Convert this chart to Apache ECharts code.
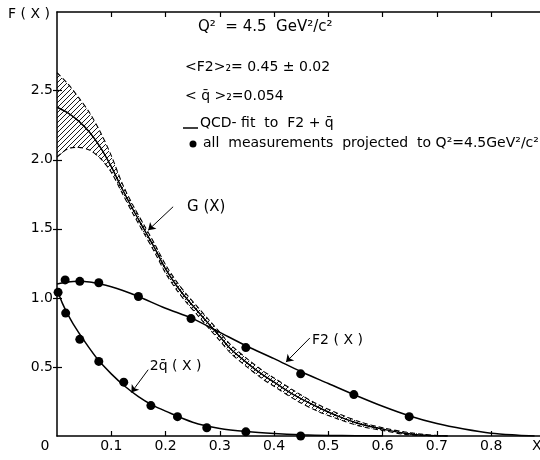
<!DOCTYPE html>
<html><head><meta charset="utf-8">
<script src="https://cdn.jsdelivr.net/npm/echarts@6/dist/echarts.min.js"></script>
<style>html,body{margin:0;padding:0;background:#fff}#c{width:540px;height:460px}</style>
</head><body><div id="c"></div>
<script>
// ---- tick values ----
const xTicks = [0.1, 0.2, 0.3, 0.4, 0.5, 0.6, 0.7, 0.8];
const yTicks = [0.5, 1.0, 1.5, 2.0, 2.5];

// ---- QCD fit curves ----
const f2FitX = [0, 0.02, 0.04, 0.06, 0.08, 0.10, 0.12, 0.15, 0.20, 0.25, 0.30, 0.35, 0.40, 0.45, 0.50, 0.55, 0.60, 0.65, 0.70, 0.75, 0.80, 0.85, 0.88];
const f2FitY = [1.10, 1.115, 1.12, 1.115, 1.10, 1.08, 1.055, 1.01, 0.925, 0.85, 0.75, 0.65, 0.56, 0.465, 0.38, 0.295, 0.215, 0.145, 0.09, 0.05, 0.02, 0.006, 0];

const qFitX = [0, 0.01, 0.02, 0.03, 0.05, 0.075, 0.10, 0.125, 0.15, 0.175, 0.20, 0.25, 0.30, 0.35, 0.40, 0.45, 0.50, 0.55, 0.60];
const qFitY = [1.06, 0.96, 0.88, 0.81, 0.69, 0.555, 0.45, 0.36, 0.285, 0.225, 0.18, 0.10, 0.055, 0.032, 0.018, 0.009, 0.004, 0.002, 0];

const gX   = [0, 0.02, 0.04, 0.06, 0.08, 0.10, 0.12, 0.14, 0.16, 0.18, 0.20, 0.22, 0.24, 0.26, 0.28, 0.30, 0.32, 0.35, 0.38, 0.40, 0.44, 0.48, 0.52, 0.56, 0.60, 0.64, 0.68, 0.72];
const gMid = [2.38, 2.34, 2.28, 2.20, 2.09, 1.95, 1.79, 1.64, 1.50, 1.36, 1.21, 1.09, 0.99, 0.90, 0.81, 0.72, 0.63, 0.53, 0.44, 0.39, 0.29, 0.21, 0.14, 0.085, 0.05, 0.02, 0.005, 0];
const gUp  = [2.63, 2.55, 2.45, 2.34, 2.20, 2.03, 1.83, 1.67, 1.53, 1.39, 1.24, 1.12, 1.02, 0.93, 0.84, 0.75, 0.66, 0.56, 0.47, 0.42, 0.32, 0.23, 0.16, 0.10, 0.06, 0.03, 0.01, 0];
const gLo  = [2.02, 2.08, 2.09, 2.07, 2.01, 1.91, 1.76, 1.61, 1.47, 1.33, 1.18, 1.06, 0.96, 0.87, 0.78, 0.69, 0.60, 0.50, 0.41, 0.36, 0.26, 0.18, 0.12, 0.07, 0.04, 0.012, 0.002, 0];

// ---- measurements ----
const f2PtsX = [0.015, 0.042, 0.077, 0.150, 0.247, 0.348, 0.449, 0.547, 0.649];
const f2PtsY = [1.13, 1.12, 1.11, 1.01, 0.85, 0.64, 0.45, 0.30, 0.14];
const qPtsX = [0.002, 0.016, 0.042, 0.077, 0.123, 0.173, 0.222, 0.276, 0.348, 0.449];
const qPtsY = [1.04, 0.89, 0.70, 0.54, 0.39, 0.22, 0.14, 0.06, 0.03, 0.0];

function pairs(xs, ys) { return xs.map((x, i) => [x, ys[i]]); }

const hatch = document.createElement('canvas');
hatch.width = 5; hatch.height = 5;
const hc = hatch.getContext('2d');
hc.strokeStyle = '#000'; hc.lineWidth = 0.9;
hc.beginPath();
hc.moveTo(-1, 6); hc.lineTo(6, -1);
hc.moveTo(-1, 1); hc.lineTo(1, -1);
hc.moveTo(4, 6); hc.lineTo(6, 4);
hc.stroke();

const FONT = 'DejaVu Sans';
const axisCommon = {
  axisLine: { show: true, onZero: false, lineStyle: { color: '#000', width: 1.5 } },
  splitLine: { show: false }
};

const chart = echarts.init(document.getElementById('c'), null, { renderer: 'canvas' });
chart.setOption({
  animation: false,
  backgroundColor: '#fff',
  grid: { left: 57, right: 0, top: 12, bottom: 24, containLabel: false },
  xAxis: [
    Object.assign({}, axisCommon, {
      type: 'value', min: 0, max: 0.89, interval: 0.1, position: 'bottom',
      axisTick: { show: true, inside: true, length: 5, customValues: xTicks, lineStyle: { color: '#000', width: 1.2 } },
      axisLabel: { show: true, customValues: xTicks, color: '#000', fontFamily: FONT, fontSize: 14, margin: 3,
        formatter: v => (v > 0.05 && v < 0.85) ? v.toFixed(1) : '' }
    }),
    Object.assign({}, axisCommon, {
      type: 'value', min: 0, max: 0.89, interval: 0.1, position: 'top',
      axisTick: { show: true, inside: true, length: 5, customValues: xTicks, lineStyle: { color: '#000', width: 1.2 } },
      axisLabel: { show: false }
    })
  ],
  yAxis: [
    Object.assign({}, axisCommon, {
      type: 'value', min: 0, max: 3.07, interval: 0.5, position: 'left',
      axisTick: { show: true, inside: true, length: 5, customValues: yTicks, lineStyle: { color: '#000', width: 1.2 } },
      axisLabel: { show: true, customValues: yTicks, color: '#000', fontFamily: FONT, fontSize: 14, margin: 4,
        formatter: v => (v > 0.2 && v < 2.8) ? v.toFixed(1) : '' }
    }),
    Object.assign({}, axisCommon, {
      type: 'value', min: 0, max: 3.07, interval: 0.5, position: 'right',
      axisLine: { show: false },
      axisTick: { show: true, inside: true, length: 4, customValues: yTicks, lineStyle: { color: '#000', width: 1.2 } },
      axisLabel: { show: false }
    })
  ],
  series: [
    {
      type: 'custom', name: 'band', data: [[0, 0]], z: 1, silent: true,
      renderItem: function (params, api) {
        if (params.dataIndex !== 0) return;
        const pts = [];
        for (let i = 0; i < gX.length; i++) pts.push(api.coord([gX[i], gUp[i]]));
        for (let i = gX.length - 1; i >= 0; i--) pts.push(api.coord([gX[i], gLo[i]]));
        return { type: 'polygon', shape: { points: pts }, style: { fill: { image: hatch, repeat: 'repeat' }, stroke: null } };
      }
    },
    { type: 'line', name: 'gUp', data: pairs(gX, gUp), showSymbol: false, smooth: 0.3, z: 2,
      lineStyle: { color: '#000', width: 1.1, type: [5, 3] } },
    { type: 'line', name: 'gLo', data: pairs(gX, gLo), showSymbol: false, smooth: 0.3, z: 2,
      lineStyle: { color: '#000', width: 1.1, type: [5, 3] } },
    { type: 'line', name: 'G', data: pairs(gX, gMid), showSymbol: false, smooth: 0.3, z: 3,
      lineStyle: { color: '#000', width: 1.5 },
      markLine: { silent: true, symbol: ['none', 'arrow'], symbolSize: 7, label: { show: false },
        lineStyle: { color: '#000', width: 1, type: 'solid' },
        data: [[{ coord: [0.214, 1.66] }, { coord: [0.168, 1.49] }]] },
      markPoint: { silent: true, symbol: 'circle', symbolSize: 0,
        data: [{ coord: [0.2396, 1.659], label: { show: true, position: 'inside', align: 'left', verticalAlign: 'middle', formatter: 'G (X)', color: '#000', fontFamily: FONT, fontSize: 15 } }] } },
    { type: 'line', name: 'F2', data: pairs(f2FitX, f2FitY), showSymbol: false, smooth: 0.3, z: 3,
      lineStyle: { color: '#000', width: 1.5 },
      markLine: { silent: true, symbol: ['none', 'arrow'], symbolSize: 7, label: { show: false },
        lineStyle: { color: '#000', width: 1, type: 'solid' },
        data: [[{ coord: [0.466, 0.71] }, { coord: [0.422, 0.535] }]] },
      markPoint: { silent: true, symbol: 'circle', symbolSize: 0,
        data: [{ coord: [0.470, 0.696], label: { show: true, position: 'inside', align: 'left', verticalAlign: 'middle', formatter: 'F2 ( X )', color: '#000', fontFamily: FONT, fontSize: 14 } }] } },
    { type: 'line', name: 'q', data: pairs(qFitX, qFitY), showSymbol: false, smooth: 0.3, z: 3,
      lineStyle: { color: '#000', width: 1.5 },
      markLine: { silent: true, symbol: ['none', 'arrow'], symbolSize: 7, label: { show: false },
        lineStyle: { color: '#000', width: 1, type: 'solid' },
        data: [[{ coord: [0.168, 0.48] }, { coord: [0.137, 0.315] }]] },
      markPoint: { silent: true, symbol: 'circle', symbolSize: 0,
        data: [{ coord: [0.171, 0.507], label: { show: true, position: 'inside', align: 'left', verticalAlign: 'middle', formatter: '2q\u0304 ( X )', color: '#000', fontFamily: FONT, fontSize: 14 } }] } },
    { type: 'scatter', name: 'F2 pts', data: pairs(f2PtsX, f2PtsY), symbol: 'circle', symbolSize: 9, clip: false, z: 5,
      itemStyle: { color: '#000', opacity: 1 } },
    { type: 'scatter', name: 'q pts', data: pairs(qPtsX, qPtsY), symbol: 'circle', symbolSize: 9, clip: false, z: 5,
      itemStyle: { color: '#000', opacity: 1 } }
  ],
  graphic: [
    { type: 'text', x: 8, y: 14, style: { text: 'F ( X )', font: '14px "DejaVu Sans"', fill: '#000', verticalAlign: 'middle' } },
    { type: 'text', x: 45, y: 446, style: { text: '0', font: '14px "DejaVu Sans"', fill: '#000', align: 'center', verticalAlign: 'middle' } },
    { type: 'text', x: 532, y: 446, style: { text: 'X', font: '14px "DejaVu Sans"', fill: '#000', verticalAlign: 'middle' } },
    { type: 'text', x: 198, y: 27, style: { text: 'Q²  = 4.5  GeV²/c²', font: '15px "DejaVu Sans"', fill: '#000', verticalAlign: 'middle' } },
    { type: 'text', x: 185, y: 67, style: { text: '<F2>₂= 0.45 ± 0.02', font: '14px "DejaVu Sans"', fill: '#000', verticalAlign: 'middle' } },
    { type: 'text', x: 185, y: 96, style: { text: '< q\u0304 >₂=0.054', font: '14px "DejaVu Sans"', fill: '#000', verticalAlign: 'middle' } },
    { type: 'line', shape: { x1: 183, y1: 128, x2: 198, y2: 128 }, style: { stroke: '#000', lineWidth: 1.5 } },
    { type: 'text', x: 200, y: 123, style: { text: 'QCD- fit  to  F2 + q\u0304', font: '14px "DejaVu Sans"', fill: '#000', verticalAlign: 'middle' } },
    { type: 'circle', shape: { cx: 193, cy: 144, r: 3.5 }, style: { fill: '#000' } },
    { type: 'text', x: 203, y: 143, style: { text: 'all  measurements  projected  to Q²=4.5GeV²/c²', font: '14px "DejaVu Sans"', fill: '#000', verticalAlign: 'middle' } }
  ]
});
</script>
</body></html>
